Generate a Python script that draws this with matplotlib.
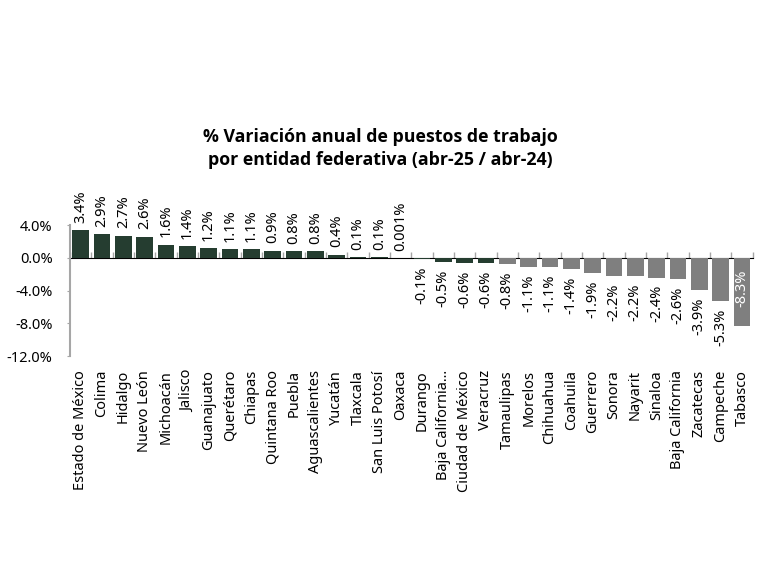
import matplotlib
matplotlib.use("Agg")
import matplotlib.pyplot as plt
import numpy as np

plt.rcParams['font.family'] = ['Noto Sans', 'DejaVu Sans']
plt.rcParams['axes.unicode_minus'] = False

# datos
estados = ['Estado de México', 'Colima', 'Hidalgo', 'Nuevo León', 'Michoacán', 'Jalisco',
           'Guanajuato', 'Querétaro', 'Chiapas', 'Quintana Roo', 'Puebla', 'Aguascalientes',
           'Yucatán', 'Tlaxcala', 'San Luis Potosí', 'Oaxaca', 'Durango', 'Baja California...',
           'Ciudad de México', 'Veracruz', 'Tamaulipas', 'Morelos', 'Chihuahua', 'Coahuila',
           'Guerrero', 'Sonora', 'Nayarit', 'Sinaloa', 'Baja California', 'Zacatecas',
           'Campeche', 'Tabasco']
variacion = [3.4, 2.9, 2.7, 2.6, 1.6, 1.4, 1.2, 1.1, 1.1, 0.9, 0.8, 0.8, 0.4, 0.1, 0.1, 0.001,
             -0.1, -0.5, -0.6, -0.6, -0.8, -1.1, -1.1, -1.4, -1.9, -2.2, -2.2, -2.4, -2.6, -3.9,
             -5.3, -8.3]
etiquetas = ['3.4%', '2.9%', '2.7%', '2.6%', '1.6%', '1.4%', '1.2%', '1.1%', '1.1%', '0.9%',
             '0.8%', '0.8%', '0.4%', '0.1%', '0.1%', '0.001%', '-0.1%', '-0.5%', '-0.6%', '-0.6%',
             '-0.8%', '-1.1%', '-1.1%', '-1.4%', '-1.9%', '-2.2%', '-2.2%', '-2.4%', '-2.6%',
             '-3.9%', '-5.3%', '-8.3%']
n_verdes = 20  # hasta Veracruz en verde, el resto gris

verde = '#253d30'
gris = '#7f7f7f'
eje = '#a6a6a6'

n = len(estados)
x = np.arange(n)
colores = [verde if i < n_verdes else gris for i in range(n)]

fig = plt.figure(figsize=(7.68, 5.81), dpi=100)
ax = fig.add_axes([0.0911, 0.387, 0.8889, 0.2255])

ax.bar(x, variacion, width=0.78, color=colores)

ymin, ymax = -12, 4
ax.set_ylim(ymin, ymax)
ax.set_xlim(-0.5, n - 0.5)
ax.set_yticks([4, 0, -4, -8, -12])
ax.set_yticklabels(['4.0%', '0.0%', '-4.0%', '-8.0%', '-12.0%'], fontsize=10.5)

ax.set_xticks(x)
ax.set_xticklabels(estados, rotation=90, fontsize=10.5)
ax.tick_params(axis='x', length=0, pad=10)
ax.tick_params(axis='y', length=2.5, color=eje, pad=10)

for s in ['top', 'right', 'bottom']:
    ax.spines[s].set_visible(False)
ax.spines['left'].set_color(eje)
ax.spines['left'].set_linewidth(1.5)

# linea del cero con marcas entre barras
sec = ax.secondary_xaxis((0 - ymin) / (ymax - ymin))
sec.set_xticks(np.arange(n + 1) - 0.5)
sec.set_xticklabels([])
sec.tick_params(length=4, color=eje, width=1)
sec.spines['bottom'].set_color(eje)
sec.spines['bottom'].set_linewidth(1.5)

for i, (v, t) in enumerate(zip(variacion, etiquetas)):
    if i == n - 1:
        ax.text(i, v * 0.45, t, rotation=90, ha='center', va='center', fontsize=10.5,
                color='white')
    elif v >= 0:
        ax.text(i, v + 0.9, t, rotation=90, ha='center', va='bottom', fontsize=10.5)
    else:
        ax.text(i, v - 0.9, t, rotation=90, ha='center', va='top', fontsize=10.5)

fig.text(0.495, 0.745, '% Variación anual de puestos de trabajo\npor entidad federativa (abr-25 / abr-24)',
         ha='center', va='center', fontsize=12.8, fontweight='bold', linespacing=1.35,
         family=['Open Sans', 'DejaVu Sans'])

fig.savefig('out.png', dpi=100)
